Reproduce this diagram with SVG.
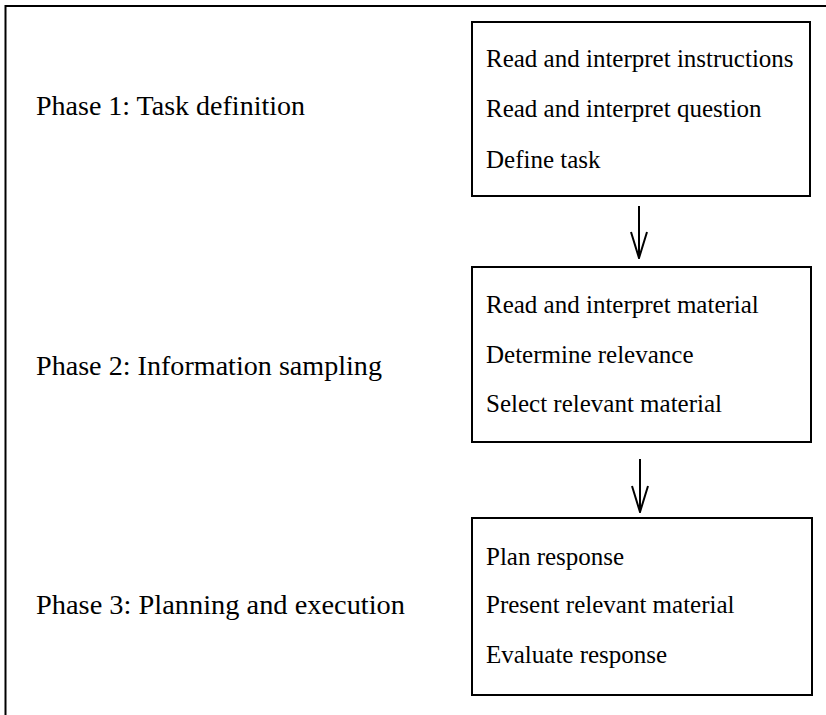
<svg xmlns="http://www.w3.org/2000/svg" width="826" height="715" viewBox="0 0 826 715">
  <style>
    .frame { fill: none; stroke: #000; stroke-width: 2; }
    .box { fill: #fff; stroke: #000; stroke-width: 2; }
    .phase { font-family: "Liberation Serif", "Times New Roman", serif; font-size: 28px; fill: #000; }
    .step { font-family: "Liberation Serif", "Times New Roman", serif; font-size: 25px; fill: #000; }
    .conn { fill: none; stroke: #000; stroke-width: 2; }
  </style>
  <defs>
    <!-- open V arrowhead, drawn along +x so orient="auto" points it down the line -->
    <marker id="vhead" viewBox="0 0 28 20" refX="27" refY="10" markerWidth="28" markerHeight="20" markerUnits="userSpaceOnUse" orient="auto">
      <path d="M1,2 L27,10 L1,18" fill="none" stroke="#000" stroke-width="2"/>
    </marker>
  </defs>
  <rect width="826" height="715" fill="#fff"/>

  <!-- open frame: top and left edges only -->
  <path class="frame" d="M5.5,715 L5.5,6 L826,6"/>

  <g id="phase1">
    <text class="phase" x="36" y="115" textLength="269" lengthAdjust="spacingAndGlyphs">Phase 1: Task definition</text>
    <rect class="box" x="472" y="22" width="338" height="174"/>
    <text class="step" x="486" y="67">Read and interpret instructions</text>
    <text class="step" x="486" y="117">Read and interpret question</text>
    <text class="step" x="486" y="168">Define task</text>
  </g>

  <g id="phase2">
    <text class="phase" x="36" y="375" textLength="346" lengthAdjust="spacingAndGlyphs">Phase 2: Information sampling</text>
    <rect class="box" x="472" y="267" width="339" height="175"/>
    <text class="step" x="486" y="313">Read and interpret material</text>
    <text class="step" x="486" y="363">Determine relevance</text>
    <text class="step" x="486" y="412">Select relevant material</text>
  </g>

  <g id="phase3">
    <text class="phase" x="36" y="614" textLength="369" lengthAdjust="spacingAndGlyphs">Phase 3: Planning and execution</text>
    <rect class="box" x="472" y="518" width="340" height="177"/>
    <text class="step" x="486" y="565">Plan response</text>
    <text class="step" x="486" y="613">Present relevant material</text>
    <text class="step" x="486" y="663">Evaluate response</text>
  </g>

  <g id="connectors">
    <line class="conn" x1="639" y1="206" x2="639" y2="258" marker-end="url(#vhead)"/>
    <line class="conn" x1="640" y1="459" x2="640" y2="512" marker-end="url(#vhead)"/>
  </g>
</svg>
